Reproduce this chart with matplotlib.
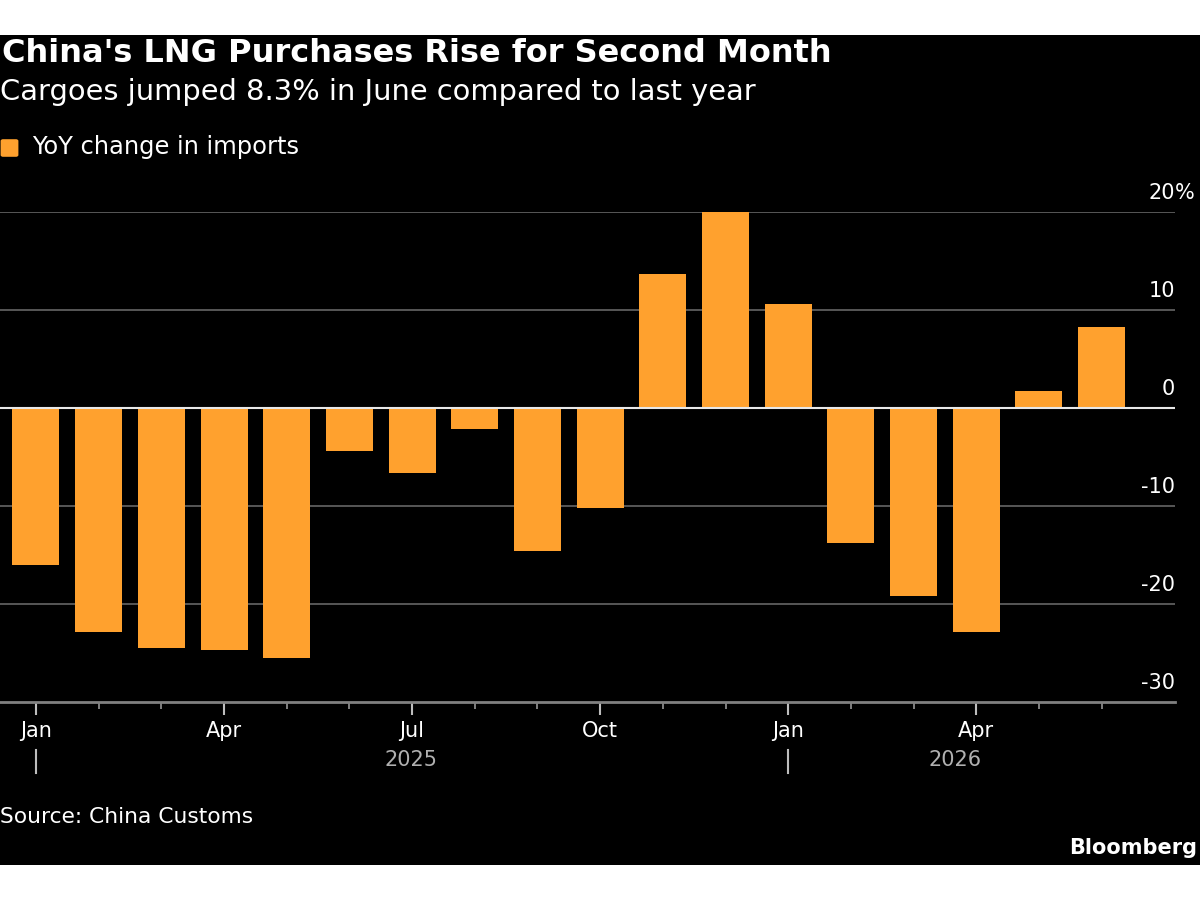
import numpy as np
import matplotlib.pyplot as plt
import matplotlib.transforms as mtransforms
from matplotlib.patches import Rectangle, FancyBboxPatch

plt.rcParams['font.family'] = ['DejaVu Sans']

# data (YoY change in China LNG imports, %)
months = ['2025-01', '2025-02', '2025-03', '2025-04', '2025-05', '2025-06',
          '2025-07', '2025-08', '2025-09', '2025-10', '2025-11', '2025-12',
          '2026-01', '2026-02', '2026-03', '2026-04', '2026-05', '2026-06']
yoy = [-16.0, -22.9, -24.5, -24.7, -25.5, -4.4, -6.6, -2.1, -14.6, -10.2,
       13.7, 20.0, 10.6, -13.8, -19.2, -22.9, 1.7, 8.3]

tick_pos = [0, 3, 6, 9, 12, 15]
tick_labels = ['Jan', 'Apr', 'Jul', 'Oct', 'Jan', 'Apr']
year_labels = ['2025', '2026']
year_label_pos = [5.98, 14.66]
year_starts = [0, 12]
y_ticks = [20, 10, 0, -10, -20, -30]

orange = '#ffa12e'
grid_c = '#5e5e5e'

fig = plt.figure(figsize=(12, 9), dpi=100, facecolor='white')
# black panel behind everything
fig.patches.append(Rectangle((0, 35/900), 1, 830/900, transform=fig.transFigure,
                             facecolor='black', edgecolor='none', zorder=-10))

ax = fig.add_axes([0, 198/900, 1175/1200, 490/900])
ax.set_facecolor('none')
x = np.arange(len(yoy))
ax.bar(x, yoy, width=0.75, color=orange, zorder=2)
ax.set_xlim(-0.574, 18.17)
ax.set_ylim(-30, 20)

ytrans = mtransforms.blended_transform_factory(ax.transAxes, ax.transData)
for v in y_ticks:
    if v == 0:
        ax.axhline(v, color='#e8e8e8', lw=1.5, zorder=3)
    elif v == -30:
        ax.axhline(v, color='#808080', lw=2, zorder=3, clip_on=False)
    else:
        ax.axhline(v, color=grid_c, lw=1.3, zorder=1)
    ax.annotate(str(v), xy=(1.0, v), xycoords=ytrans, xytext=(0, 14),
                textcoords='offset points', ha='right', va='center',
                color='white', fontsize=15, annotation_clip=False)
# percent sign hangs past the right edge
ax.annotate('%', xy=(1.0, y_ticks[0]), xycoords=ytrans, xytext=(0, 14),
            textcoords='offset points', ha='left', va='center',
            color='white', fontsize=15, annotation_clip=False)

for s in ax.spines.values():
    s.set_visible(False)
ax.yaxis.set_visible(False)
ax.set_xticks(tick_pos)
ax.set_xticklabels(tick_labels)
ax.set_xticks([i for i in range(len(yoy)) if i not in tick_pos], minor=True)
ax.tick_params(axis='x', which='major', length=9, width=1.5, color='#bdbdbd',
               labelcolor='white', labelsize=15, pad=5)
ax.tick_params(axis='x', which='minor', length=5, width=1.3, color='#8a8a8a')

xtrans = mtransforms.blended_transform_factory(ax.transData, ax.transAxes)
for lab, pos, start in zip(year_labels, year_label_pos, year_starts):
    ax.text(pos, -0.118, lab, transform=xtrans, ha='center', va='center',
            color='#b0b0b0', fontsize=15, clip_on=False)
    ax.plot([start, start], [-0.098, -0.145], transform=xtrans,
            color='#bdbdbd', lw=1.5, clip_on=False)

# header
fig.text(0.002, 1 - 53/900, "China's LNG Purchases Rise for Second Month",
         color='white', fontsize=23, fontweight='bold', va='center', ha='left')
fig.text(0.0, 1 - 92/900, 'Cargoes jumped 8.3% in June compared to last year',
         color='white', fontsize=20.8, va='center', ha='left')
fig.patches.append(FancyBboxPatch((3/1200, 1 - 155/900), 13/1200, 14/900,
                                  boxstyle='round,pad=0.002', transform=fig.transFigure,
                                  facecolor=orange, edgecolor='none'))
fig.text(32/1200, 1 - 147/900, 'YoY change in imports', color='white',
         fontsize=17.4, va='center', ha='left')

# footer
fig.text(0.0, 1 - 817/900, 'Source: China Customs', color='white',
         fontsize=15.7, va='center', ha='left')
fig.text(1197/1200, 1 - 848/900, 'Bloomberg', color='white', fontsize=15,
         fontweight='bold', va='center', ha='right')

fig.savefig('out.png', dpi=100, facecolor='white')
